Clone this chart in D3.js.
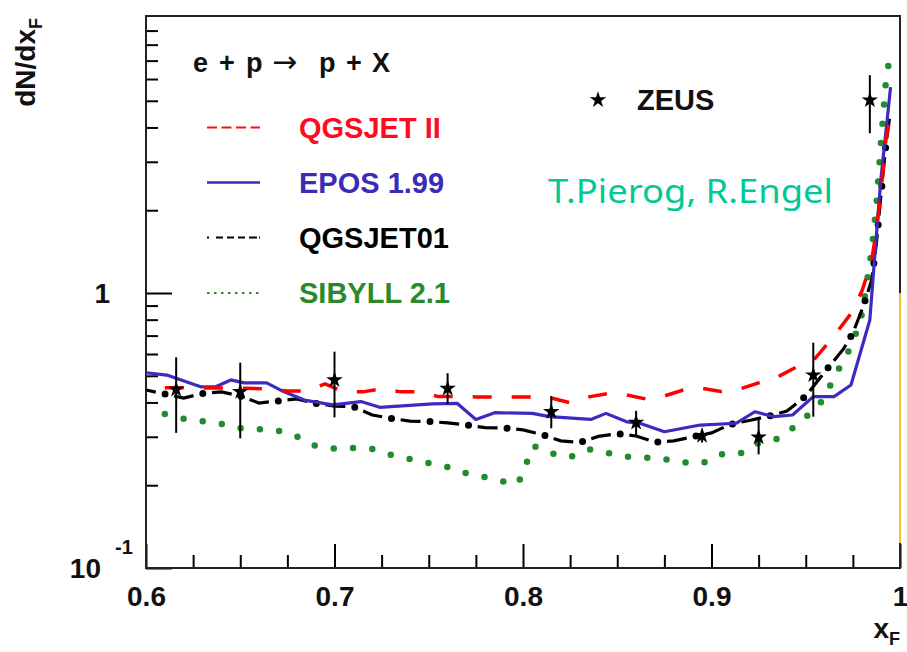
<!DOCTYPE html>
<html><head><meta charset="utf-8">
<script src="https://cdn.jsdelivr.net/npm/d3@7/dist/d3.min.js"></script>
<style>
body{margin:0;background:#fff;}
svg{display:block;}
text{font-family:"Liberation Sans",Arial,sans-serif;font-weight:bold;}
</style>
</head><body>
<svg id="c" width="907" height="652"></svg>
<script>
// ---------- data ----------
const xTicks = [0.6, 0.7, 0.8, 0.9, 1.0];
const xTickLabels = ["0.6", "0.7", "0.8", "0.9", "1"];
const xMinorTicks = [0.625,0.65,0.675,0.725,0.75,0.775,0.825,0.85,0.875,0.925,0.95,0.975];
const yMajorTicks = [0.1, 1];
const yMinorTicks = [0.2,0.3,0.4,0.5,0.6,0.7,0.8,0.9,2,3,4,5,6,7,8,9];
const yMax = 10.17;

const zeusX  = [0.616,0.650,0.700,0.760,0.815,0.860,0.895,0.925,0.954,0.984];
const zeusY  = [0.446,0.438,0.483,0.450,0.370,0.338,0.303,0.299,0.503,5.03];
const zeusLo = [0.310,0.296,0.353,0.394,0.322,0.302,0.286,0.259,0.355,3.81];
const zeusHi = [0.584,0.558,0.612,0.511,0.422,0.373,0.318,0.347,0.660,6.20];

const qgsjet2X = [0.61,0.62,0.635,0.65,0.665,0.675,0.685,0.695,0.705,0.715,0.725,0.735,0.745,0.755,0.765,0.775,0.785,0.795,0.805,0.815,0.825,0.835,0.845,0.855,0.865,0.875,0.885,0.895,0.905,0.915,0.925,0.935,0.945,0.955,0.965,0.975,0.98,0.985,0.9875,0.99,0.9925,0.995];
const qgsjet2Y = [0.452,0.452,0.451,0.451,0.448,0.440,0.440,0.467,0.437,0.437,0.448,0.437,0.438,0.420,0.420,0.419,0.419,0.419,0.419,0.415,0.399,0.419,0.431,0.426,0.412,0.422,0.444,0.450,0.438,0.448,0.471,0.495,0.538,0.579,0.698,0.860,1.025,1.318,1.694,2.37,3.60,4.44];

const eposX = [0.600,0.611,0.629,0.637,0.645,0.652,0.664,0.673,0.684,0.699,0.714,0.724,0.752,0.765,0.775,0.785,0.805,0.814,0.836,0.844,0.855,0.862,0.875,0.894,0.913,0.923,0.933,0.943,0.954,0.965,0.974,0.984,0.988,0.990,0.995];
const eposY = [0.513,0.503,0.456,0.456,0.483,0.471,0.471,0.438,0.408,0.392,0.403,0.384,0.395,0.397,0.347,0.367,0.365,0.355,0.347,0.365,0.340,0.336,0.313,0.331,0.336,0.370,0.355,0.360,0.420,0.420,0.463,0.798,1.81,2.65,5.61];

const qgsjet01X = [0.60,0.61,0.62,0.63,0.64,0.65,0.66,0.67,0.68,0.69,0.70,0.71,0.72,0.73,0.74,0.75,0.76,0.77,0.78,0.79,0.80,0.81,0.82,0.83,0.84,0.85,0.86,0.87,0.88,0.89,0.90,0.91,0.92,0.93,0.94,0.95,0.96,0.97,0.975,0.98,0.985,0.9875,0.99,0.9925,0.995];
const qgsjet01Y = [0.444,0.429,0.415,0.431,0.437,0.422,0.398,0.405,0.412,0.397,0.388,0.386,0.360,0.350,0.342,0.341,0.337,0.331,0.324,0.323,0.318,0.306,0.290,0.286,0.301,0.308,0.302,0.287,0.290,0.300,0.310,0.333,0.344,0.356,0.372,0.422,0.516,0.626,0.715,0.875,1.115,1.52,2.31,3.45,4.63];

const sibyllX = [0.61,0.62,0.63,0.64,0.65,0.66,0.67,0.68,0.69,0.70,0.71,0.72,0.73,0.74,0.75,0.76,0.77,0.78,0.79,0.7975,0.8055,0.815,0.825,0.835,0.845,0.855,0.865,0.875,0.885,0.895,0.905,0.915,0.925,0.935,0.945,0.955,0.96,0.965,0.97,0.975,0.98,0.985,0.9875,0.99,0.9925,0.995];
const sibyllY = [0.363,0.349,0.342,0.334,0.322,0.320,0.316,0.301,0.278,0.272,0.273,0.271,0.258,0.249,0.241,0.233,0.221,0.214,0.206,0.203,0.278,0.261,0.253,0.270,0.262,0.254,0.252,0.249,0.242,0.240,0.259,0.260,0.285,0.295,0.330,0.379,0.415,0.495,0.566,0.658,0.846,1.433,2.09,3.60,5.85,7.59];

const legendNames = ["QGSJET II", "EPOS 1.99", "QGSJET01", "SIBYLL 2.1"];
const legendColors = ["#ff0a1e", "#3a2cb4", "#000000", "#2a8a2a"];
const titleParts = ["e", "+", "p", "\u2192", "p", "+", "X"];

// ---------- drawing ----------
const svg = d3.select("#c");
const L = 146, R = 900, T = 16, B = 568;
const x = d3.scaleLinear().domain([0.6, 1]).range([L, R]);
const y = d3.scaleLog().domain([0.1, yMax]).range([B, T]);

svg.append("defs").append("clipPath").attr("id","clip")
  .append("rect").attr("x",L).attr("y",T).attr("width",R-L).attr("height",B-T);

// axes ticks
const gx = svg.append("g").attr("transform",`translate(0,${B})`)
  .call(d3.axisBottom(x).tickValues(xTicks).tickSize(-24).tickPadding(18)
    .tickFormat((d,i)=>xTickLabels[i]));
gx.select(".domain").remove();
gx.selectAll("line").attr("stroke","#000").attr("stroke-width",2);
gx.selectAll("text").attr("font-size",28).attr("fill","#111")
  .style("font-family","'Liberation Sans',Arial,sans-serif");

const gxm = svg.append("g").attr("transform",`translate(0,${B})`)
  .call(d3.axisBottom(x).tickValues(xMinorTicks).tickSize(-13).tickFormat(""));
gxm.select(".domain").remove();
gxm.selectAll("line").attr("stroke","#000").attr("stroke-width",2);

const gy = svg.append("g").attr("transform",`translate(${L},0)`)
  .call(d3.axisLeft(y).tickValues(yMajorTicks).tickSize(-26).tickFormat(""));
gy.select(".domain").remove();
gy.selectAll("line").attr("stroke","#000").attr("stroke-width",2);
const gym = svg.append("g").attr("transform",`translate(${L},0)`)
  .call(d3.axisLeft(y).tickValues(yMinorTicks).tickSize(-12).tickFormat(""));
gym.select(".domain").remove();
gym.selectAll("line").attr("stroke","#000").attr("stroke-width",2);

// y labels
svg.append("text").attr("x",110).attr("y",y(1)).attr("dy","0.36em")
  .attr("text-anchor","end").attr("font-size",28).attr("fill","#111").text("1");
svg.append("text").attr("x",101).attr("y",y(0.1)+10)
  .attr("text-anchor","end").attr("font-size",28).attr("fill","#111").text("10");
svg.append("text").attr("x",115).attr("y",y(0.1)-14)
  .attr("text-anchor","start").attr("font-size",20).attr("fill","#111").text("-1");

// frame
const frame = svg.append("g").attr("stroke-width",2).attr("fill","none");
frame.append("path").attr("stroke","#222").attr("d",`M${R},${y(1)}L${R},${T}L${L},${T}L${L},${B}L${R},${B}L${R},${B-25}`);
frame.append("path").attr("stroke","#f0c030").attr("d",`M${R},${y(1)}L${R},${B-25}`);

// axis titles
const yt = svg.append("text").attr("transform",`translate(35,18) rotate(-90)`)
  .attr("text-anchor","end").attr("font-size",28).attr("fill","#111");
yt.append("tspan").text("dN/dx");
yt.append("tspan").attr("font-size",18).attr("dy",7).text("F");

const xt = svg.append("text").attr("x",R).attr("y",638).attr("text-anchor","end")
  .attr("font-size",28).attr("fill","#111");
xt.append("tspan").text("x");
xt.append("tspan").attr("font-size",18).attr("dy",7).text("F");

// curves
const plot = svg.append("g").attr("clip-path","url(#clip)");
const line = d3.line().x(d=>x(d[0])).y(d=>y(d[1]));
const zip = (a,b)=>a.map((v,i)=>[v,b[i]]);

plot.append("path").datum(zip(sibyllX,sibyllY)).attr("d",line)
  .attr("fill","none").attr("stroke","#238b2f").attr("stroke-width",6.5)
  .attr("stroke-linecap","round").attr("stroke-dasharray","0 19.3");

plot.append("path").datum(zip(qgsjet01X,qgsjet01Y)).attr("d",line)
  .attr("fill","none").attr("stroke","#000").attr("stroke-width",3.2)
  .attr("stroke-dasharray","20 18.7").attr("stroke-dashoffset",10);
plot.append("path").datum(zip(qgsjet01X,qgsjet01Y)).attr("d",line)
  .attr("fill","none").attr("stroke","#000").attr("stroke-width",7)
  .attr("stroke-linecap","round").attr("stroke-dasharray","0 38.7").attr("stroke-dashoffset",-19.5);

plot.append("path").datum(zip(eposX,eposY)).attr("d",line)
  .attr("fill","none").attr("stroke","#3a2cc0").attr("stroke-width",3.2)
  .attr("stroke-linejoin","round");

plot.append("path").datum(zip(qgsjet2X,qgsjet2Y)).attr("d",line)
  .attr("fill","none").attr("stroke","#ff0000").attr("stroke-width",3.5)
  .attr("stroke-dasharray","19 20");

// ZEUS data
const zg = svg.append("g");
zeusX.forEach((xv,i)=>{
  zg.append("line").attr("x1",x(xv)).attr("x2",x(xv))
    .attr("y1",y(zeusLo[i])).attr("y2",y(zeusHi[i]))
    .attr("stroke","#000").attr("stroke-width",2);
  zg.append("path").attr("d",d3.symbol(d3.symbolStar,85)())
    .attr("transform",`translate(${x(xv)},${y(zeusY[i])})`).attr("fill","#000");
});

// legend title, glyph by glyph
const titleX = [193, 219, 246, 272, 319, 346, 372];
const tt = svg.append("text").attr("y",72).attr("font-size",27).attr("fill","#111");
titleParts.forEach((p,i)=>{
  const s = tt.append("tspan").attr("x",titleX[i]).text(p);
  if(p==="\u2192") s.style("font-family","'DejaVu Sans',sans-serif").style("font-weight","normal").attr("font-size",30);
});

const legY = [127.5, 182.5, 237.5, 293];
const legDash = ["10 4.5", null, "2 7 7 4 7 4 7 4 8", "2.5 4.5"];
legendNames.forEach((n,i)=>{
  const ln = svg.append("line").attr("x1",207).attr("x2",260)
    .attr("y1",legY[i]).attr("y2",legY[i])
    .attr("stroke",legendColors[i]).attr("stroke-width",i===1?2.5:2.2);
  if(legDash[i]) ln.attr("stroke-dasharray",legDash[i]);
  svg.append("text").attr("x",299).attr("y",legY[i]).attr("dy","0.36em")
    .attr("font-size",29).attr("fill",legendColors[i]).text(n);
});

// ZEUS legend
svg.append("path").attr("d",d3.symbol(d3.symbolStar,85)())
  .attr("transform","translate(598,100)").attr("fill","#000");
svg.append("text").attr("x",637).attr("y",100).attr("dy","0.36em")
  .attr("font-size",29).attr("fill","#111").text("ZEUS");

// author credit
svg.append("text").attr("x",548).attr("y",203)
  .attr("font-size",33).attr("fill","#00c896")
  .style("font-family","'Comic Sans MS','Noto Sans',sans-serif").style("font-weight","normal")
  .attr("textLength",285).attr("lengthAdjust","spacingAndGlyphs")
  .text("T.Pierog, R.Engel");
</script>
</body></html>
